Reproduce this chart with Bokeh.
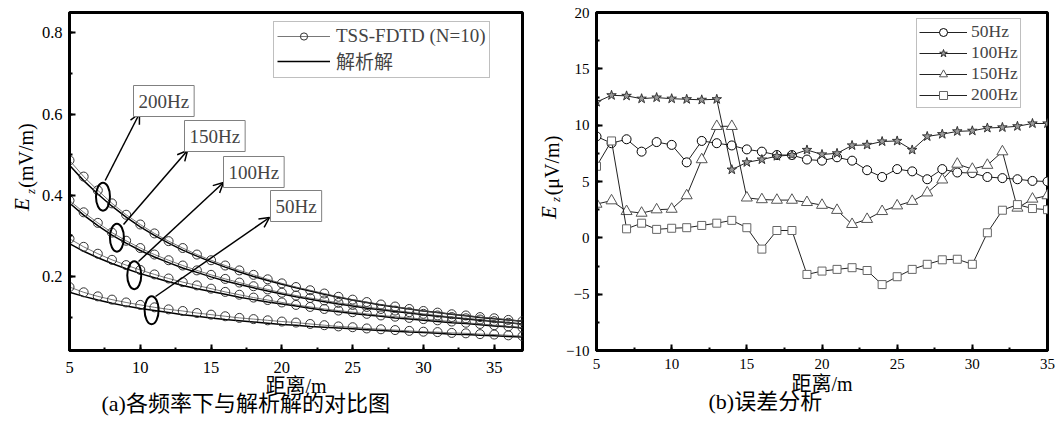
from math import pi
from bokeh.plotting import figure
from bokeh.models import (Range1d, SingleIntervalTicker, Legend, LegendItem, Label,
                          Arrow, OpenHead, Title)
from bokeh.layouts import row
from bokeh.embed import file_html
from bokeh.resources import INLINE
from bokeh.core.properties import value

# ---------------- data: (a) comparison with analytic solution ----------------
distance_a = [5, 6, 7, 8, 9, 10, 11, 12, 13, 14, 15, 16, 17, 18, 19, 20, 21,
              22, 23, 24, 25, 26, 27, 28, 29, 30, 31, 32, 33, 34, 35, 36, 37]

tss_200 = [0.486, 0.446, 0.412, 0.380, 0.352, 0.328, 0.306, 0.287, 0.270, 0.254, 0.240,
           0.227, 0.215, 0.204, 0.193, 0.183, 0.174, 0.166, 0.158, 0.150, 0.143, 0.137,
           0.131, 0.126, 0.120, 0.115, 0.111, 0.107, 0.104, 0.100, 0.097, 0.093, 0.090]
tss_150 = [0.387, 0.358, 0.332, 0.308, 0.288, 0.270, 0.254, 0.240, 0.227, 0.215, 0.204,
           0.194, 0.185, 0.176, 0.168, 0.160, 0.153, 0.147, 0.141, 0.135, 0.130, 0.125,
           0.120, 0.116, 0.112, 0.108, 0.104, 0.100, 0.097, 0.094, 0.090, 0.086, 0.082]
tss_100 = [0.293, 0.273, 0.256, 0.241, 0.228, 0.216, 0.205, 0.195, 0.186, 0.178, 0.170,
           0.162, 0.155, 0.148, 0.142, 0.136, 0.130, 0.125, 0.120, 0.116, 0.112, 0.108,
           0.104, 0.101, 0.098, 0.095, 0.092, 0.089, 0.086, 0.083, 0.080, 0.077, 0.074]
tss_50 = [0.174, 0.161, 0.151, 0.143, 0.136, 0.130, 0.124, 0.119, 0.115, 0.110, 0.106,
          0.102, 0.098, 0.095, 0.092, 0.089, 0.0865, 0.083, 0.080, 0.077, 0.075, 0.072,
          0.070, 0.068, 0.066, 0.064, 0.063, 0.061, 0.060, 0.058, 0.057, 0.055, 0.053]

ana_200 = [0.474, 0.436, 0.403, 0.373, 0.346, 0.322, 0.301, 0.282, 0.265, 0.250, 0.236,
           0.223, 0.211, 0.200, 0.190, 0.181, 0.172, 0.164, 0.156, 0.149, 0.142, 0.136,
           0.130, 0.125, 0.120, 0.115, 0.111, 0.107, 0.103, 0.099, 0.096, 0.093, 0.090]
ana_150 = [0.381, 0.351, 0.325, 0.302, 0.282, 0.264, 0.248, 0.234, 0.221, 0.210, 0.199,
           0.189, 0.180, 0.172, 0.164, 0.157, 0.150, 0.144, 0.138, 0.132, 0.127, 0.122,
           0.118, 0.114, 0.110, 0.106, 0.102, 0.099, 0.095, 0.092, 0.089, 0.086, 0.083]
ana_100 = [0.281, 0.262, 0.246, 0.232, 0.219, 0.207, 0.197, 0.187, 0.178, 0.170, 0.163,
           0.156, 0.149, 0.143, 0.137, 0.132, 0.127, 0.122, 0.117, 0.113, 0.109, 0.105,
           0.102, 0.098, 0.095, 0.092, 0.089, 0.086, 0.084, 0.081, 0.078, 0.076, 0.073]
ana_50 = [0.161, 0.151, 0.142, 0.134, 0.127, 0.121, 0.116, 0.111, 0.106, 0.102, 0.098,
          0.094, 0.091, 0.088, 0.085, 0.082, 0.080, 0.077, 0.075, 0.073, 0.071, 0.069,
          0.067, 0.065, 0.063, 0.062, 0.060, 0.058, 0.057, 0.055, 0.054, 0.052, 0.051]

freq_labels = ["200Hz", "150Hz", "100Hz", "50Hz"]

# ---------------- data: (b) error analysis ----------------
distance_b = [5, 6, 7, 8, 9, 10, 11, 12, 13, 14, 15, 16, 17, 18, 19, 20,
              21, 22, 23, 24, 25, 26, 27, 28, 29, 30, 31, 32, 33, 34, 35]
err_50 = [9.0, 8.4, 8.75, 7.65, 8.5, 8.25, 6.7, 8.6, 8.4, 8.2, 7.85, 7.65, 7.35, 7.35, 6.95,
          6.85, 7.15, 6.85, 6.0, 5.4, 6.1, 5.9, 5.2, 6.1, 5.8, 5.75, 5.4, 5.3, 5.2, 5.05, 5.0]
err_100 = [12.05, 12.65, 12.6, 12.35, 12.45, 12.35, 12.3, 12.25, 12.3, 6.05, 6.7, 6.95, 7.25,
           7.35, 7.8, 7.4, 7.5, 8.2, 8.25, 8.55, 8.6, 7.8, 9.0, 9.2, 9.45, 9.5, 9.75, 9.8,
           9.9, 10.15, 10.15]
err_150 = [3.0, 3.3, 2.35, 2.2, 2.5, 2.55, 3.75, 6.95, 9.9, 9.9, 3.55, 3.4, 3.35, 3.35, 3.15,
           2.9, 2.45, 1.2, 1.65, 2.35, 2.85, 3.25, 4.0, 5.15, 6.55, 6.1, 6.45, 7.65, 2.65,
           3.45, 3.75]
err_200 = [6.35, 8.6, 0.8, 1.3, 0.75, 0.85, 0.9, 1.1, 1.3, 1.55, 0.9, -1.0, 0.65, 0.65, -3.25,
           -2.95, -2.8, -2.65, -2.9, -4.15, -3.45, -2.8, -2.35, -1.95, -1.9, -2.35, 0.45,
           2.45, 2.95, 2.6, 2.5]

SERIF = "Liberation Serif"
MIX = "Liberation Serif, Noto Sans CJK SC"
H = 425
TOP = 12      # frame top (all figures share it)
BOT = 75      # space below the frame


def style(p, tick_px, x_standoff, y_standoff, xlabel_standoff):
    for ax in (p.xaxis[0], p.yaxis[0]):
        ax.axis_line_width = 3
        ax.axis_line_color = "black"
        ax.major_tick_in = 6
        ax.major_tick_out = 0
        ax.minor_tick_in = 3
        ax.minor_tick_out = 0
        ax.major_tick_line_width = 2
        ax.minor_tick_line_width = 2
        ax.major_tick_line_color = "black"
        ax.minor_tick_line_color = "black"
        ax.major_label_text_font = SERIF
        ax.major_label_text_font_size = f"{tick_px}px"
        ax.major_label_text_color = "black"
    p.xaxis[0].major_label_standoff = x_standoff
    p.yaxis[0].major_label_standoff = y_standoff
    p.xaxis[0].axis_label_text_font = MIX
    p.xaxis[0].axis_label_text_font_size = "20px"
    p.xaxis[0].axis_label_text_font_style = "normal"
    p.xaxis[0].axis_label_text_color = "black"
    p.xaxis[0].axis_label_standoff = xlabel_standoff
    p.outline_line_color = "black"
    p.outline_line_width = 3
    p.outline_line_alpha = 1.0
    p.xgrid.visible = False
    p.ygrid.visible = False
    p.background_fill_color = "white"
    p.border_fill_color = "white"


def ylabel_fig(width, parts):
    # narrow strip holding the rotated y-axis title; y data == page pixels from bottom
    f = figure(width=width, height=H, x_range=Range1d(0, width),
               y_range=Range1d(BOT, H - TOP), output_backend="svg", toolbar_location=None,
               x_axis_type=None, y_axis_type=None, min_border_left=0, min_border_right=0,
               min_border_top=TOP, min_border_bottom=BOT)
    f.outline_line_color = None
    f.background_fill_color = "white"
    f.border_fill_color = "white"
    for txt, cx, cy_page, size, style_ in parts:
        f.text(x=[cx], y=[H - cy_page], text=[txt], angle=pi / 2,
               text_font=value(SERIF), text_font_style=style_, text_font_size=f"{size}px",
               text_baseline="middle", text_align="center", text_color="black")
    return f


# ================= figure (a) =================
lab_a = ylabel_fig(38, [("E", 21.5, 204, 21, "italic"),
                        ("z", 29.5, 191, 13, "italic"),
                        ("(mV/m)", 25, 155, 20, "normal")])

p1 = figure(width=490, height=H, x_range=Range1d(5, 37), y_range=Range1d(0.0177, 0.85),
            output_backend="svg", toolbar_location=None,
            min_border_left=28, min_border_right=6, min_border_top=TOP, min_border_bottom=BOT)
p1.xaxis.ticker = SingleIntervalTicker(interval=5, num_minor_ticks=2)
p1.yaxis.ticker = SingleIntervalTicker(interval=0.2, num_minor_ticks=2)
p1.xaxis.axis_label = "距离/m"
style(p1, 16.5, 11, 7, -1)

ana_r = None
tss_lr = tss_sr = None
for tss, ana in [(tss_200, ana_200), (tss_150, ana_150), (tss_100, ana_100), (tss_50, ana_50)]:
    ana_r = p1.line(distance_a, ana, line_color="black", line_width=1.5)
    tss_lr = p1.line(distance_a, tss, line_color="#555555", line_width=0.8)
    tss_sr = p1.scatter(distance_a, tss, marker="circle", size=9, fill_color=None,
                        line_color="#333333", line_width=1)

leg1 = Legend(items=[LegendItem(label="TSS-FDTD (N=10)", renderers=[tss_lr, tss_sr]),
                     LegendItem(label="解析解", renderers=[ana_r])],
              location=(204, 272), padding=3, spacing=-6, glyph_width=53, glyph_height=18,
              label_height=18, label_standoff=6, label_text_font=MIX,
              label_text_font_size="19px",
              border_line_color="#808080", border_line_width=1,
              background_fill_color="white", background_fill_alpha=1.0)
p1.add_layout(leg1)

# ellipses marking each curve (annotation positions)
ell_x = [7.365, 8.35, 9.575, 10.80]
ell_y = [0.3966, 0.2956, 0.2032, 0.117]
p1.ellipse(x=ell_x, y=ell_y, width=14, height=28, width_units="screen", height_units="screen",
           fill_color=None, line_color="black", line_width=2)

arrows = [((35.7, 170), (70, 237)), ((54, 126), (118, 200)),
          ((69, 89), (154, 168)), ((86, 54), (200, 133))]
boxes = [(64, 265), (115, 230), (154, 194), (201, 160)]
for (s, e), (bx, by), txt in zip(arrows, boxes, freq_labels):
    p1.add_layout(Arrow(x_start=s[0], y_start=s[1], x_end=e[0], y_end=e[1],
                        start_units="screen", end_units="screen", line_width=1.5,
                        end=OpenHead(size=10, line_width=1.5)))
    p1.add_layout(Label(x=bx, y=by, x_units="screen", y_units="screen", text=txt,
                        text_font=SERIF, text_font_size="19px", text_align="left",
                        text_baseline="top", border_line_color="#808080",
                        border_line_width=1, background_fill_color="white",
                        background_fill_alpha=1.0, padding=5))

p1.add_layout(Title(text="(a)各频率下与解析解的对比图", align="left", offset=32, standoff=-18,
                    vertical_align="top", text_font=MIX, text_font_size="22px",
                    text_font_style="normal", text_color="black"), "below")

# ================= figure (b) =================
lab_b = ylabel_fig(35, [("E", 20, 212, 21, "italic"),
                        ("z", 27, 199, 13, "italic"),
                        ("(μV/m)", 23, 165, 20, "normal")])

p2 = figure(width=493, height=H, x_range=Range1d(5, 35), y_range=Range1d(-10, 20),
            output_backend="svg", toolbar_location=None,
            min_border_left=27, min_border_right=9, min_border_top=TOP, min_border_bottom=BOT)
p2.xaxis.ticker = SingleIntervalTicker(interval=5, num_minor_ticks=2)
p2.yaxis.ticker = SingleIntervalTicker(interval=5, num_minor_ticks=2)
p2.xaxis.axis_label = "距离/m"
style(p2, 15, 8, 7, 1)

series_b = [("50Hz", err_50, "circle", 9, "black"),
            ("100Hz", err_100, "star", 10, "#333333"),
            ("150Hz", err_150, "triangle", 11, "#555555"),
            ("200Hz", err_200, "square", 8, "#666666")]
items = []
for name, vals, mk, sz, lc in series_b:
    lr = p2.line(distance_b, vals, line_color="#222222", line_width=1)
    fill = "#9a9a9a" if mk == "star" else "white"
    sr = p2.scatter(distance_b, vals, marker=mk, size=sz, fill_color=fill, line_color=lc,
                    line_width=1)
    items.append(LegendItem(label=name, renderers=[lr, sr]))

leg2 = Legend(items=items, location=(320, 242), padding=2, spacing=-1, glyph_width=48,
              glyph_height=20, label_height=20, label_standoff=4, label_text_font=SERIF,
              label_text_font_size="17.5px", border_line_color="#808080",
              border_line_width=1, background_fill_color="white", background_fill_alpha=1.0)
p2.add_layout(leg2)

p2.add_layout(Title(text="(b)误差分析", align="left", offset=112, standoff=-18,
                    vertical_align="top", text_font=MIX, text_font_size="22px",
                    text_font_style="normal", text_color="black"), "below")

layout = row(lab_a, p1, lab_b, p2)
open("out.html", "w").write(file_html(layout, INLINE))
